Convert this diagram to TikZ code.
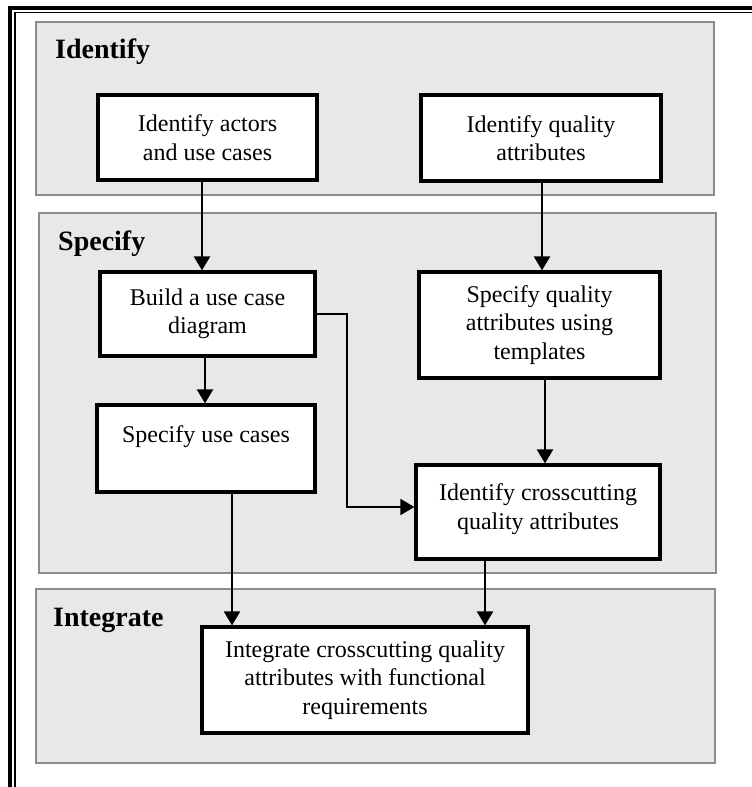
\documentclass[tikz,border=0pt]{standalone}
\usepackage{fontspec}
\setmainfont{Liberation Serif}
\usetikzlibrary{arrows.meta}
\definecolor{panelfill}{HTML}{E8E8E8}
\definecolor{paneledge}{HTML}{8C8C8C}
\begin{document}
\begin{tikzpicture}[x=1pt,y=-1pt,
  panel/.style={fill=panelfill,draw=paneledge,line width=1.8pt},
  phase/.style={anchor=base west,inner sep=0pt,font=\fontsize{28}{32}\selectfont\bfseries},
  stepbox/.style={draw=black,fill=white,line width=3.2pt,inner sep=0pt,align=center,
    font=\fontsize{24}{28.5}\selectfont},
  flow/.style={line width=2.2pt,-{Triangle[length=14pt,width=16pt]}},
  elbow/.style={line width=1.8pt,-{Triangle[length=14pt,width=16pt]}}]
\useasboundingbox (0,0) rectangle (752,787);

% double frame on the top and left edges
\draw[line width=4pt] (10,787) -- (10,8) -- (752,8);
\draw[line width=1.4pt] (15,787) -- (15,12.5) -- (752,12.5);

% phase panels
\draw[panel] (36,22) rectangle (714,195);
\draw[panel] (39,213) rectangle (716,573);
\draw[panel] (36,589) rectangle (715,763);

\node[phase] (hid) at (55,58) {Identify};
\node[phase] (hsp) at (58,250) {Specify};
\node[phase] (hin) at (53,626) {Integrate};

% activities
\node[stepbox,minimum width=219pt,minimum height=85pt] (b1) at (207.5,137.5)
  {Identify actors\\and use cases};
\node[stepbox,minimum width=240pt,minimum height=86pt] (b2) at (541,138)
  {Identify quality\\attributes};
\node[stepbox,minimum width=215pt,minimum height=84pt] (b3) at (207.5,314)
  {Build a use case\\diagram};
\node[stepbox,minimum width=241pt,minimum height=106pt] (b4) at (539.5,325)
  {Specify quality\\attributes using\\templates};
\node[stepbox,minimum width=218pt,minimum height=87pt] (b5) at (206,448.5)
  {Specify use cases\\\mbox{}};
\node[stepbox,minimum width=244pt,minimum height=94pt] (b6) at (538,512)
  {Identify crosscutting\\quality attributes\\[-17.5pt]\mbox{}};
\node[stepbox,minimum width=326pt,minimum height=106pt] (b7) at (365,680)
  {Integrate crosscutting quality\\attributes with functional\\requirements};

% connectors
\coordinate (s1) at ([xshift=-5.5pt]b1.south);
\draw[flow] (s1) -- (s1 |- b3.north);
\coordinate (s2) at ([xshift=1pt]b2.south);
\draw[flow] (s2) -- (s2 |- b4.north);
\coordinate (s3) at ([xshift=-2.5pt]b3.south);
\draw[flow] (s3) -- (s3 |- b5.north);
\coordinate (bend) at (347,507);
\draw[elbow] (b3.east) -| (bend) -- ([yshift=5pt]b6.west);
\coordinate (s4) at ([xshift=5.5pt]b4.south);
\draw[flow] (s4) -- (s4 |- b6.north);
\coordinate (s5) at ([xshift=26pt]b5.south);
\draw[flow] (s5) -- (s5 |- b7.north);
\coordinate (s6) at ([xshift=-53pt]b6.south);
\draw[flow] (s6) -- (s6 |- b7.north);
\end{tikzpicture}
\end{document}
